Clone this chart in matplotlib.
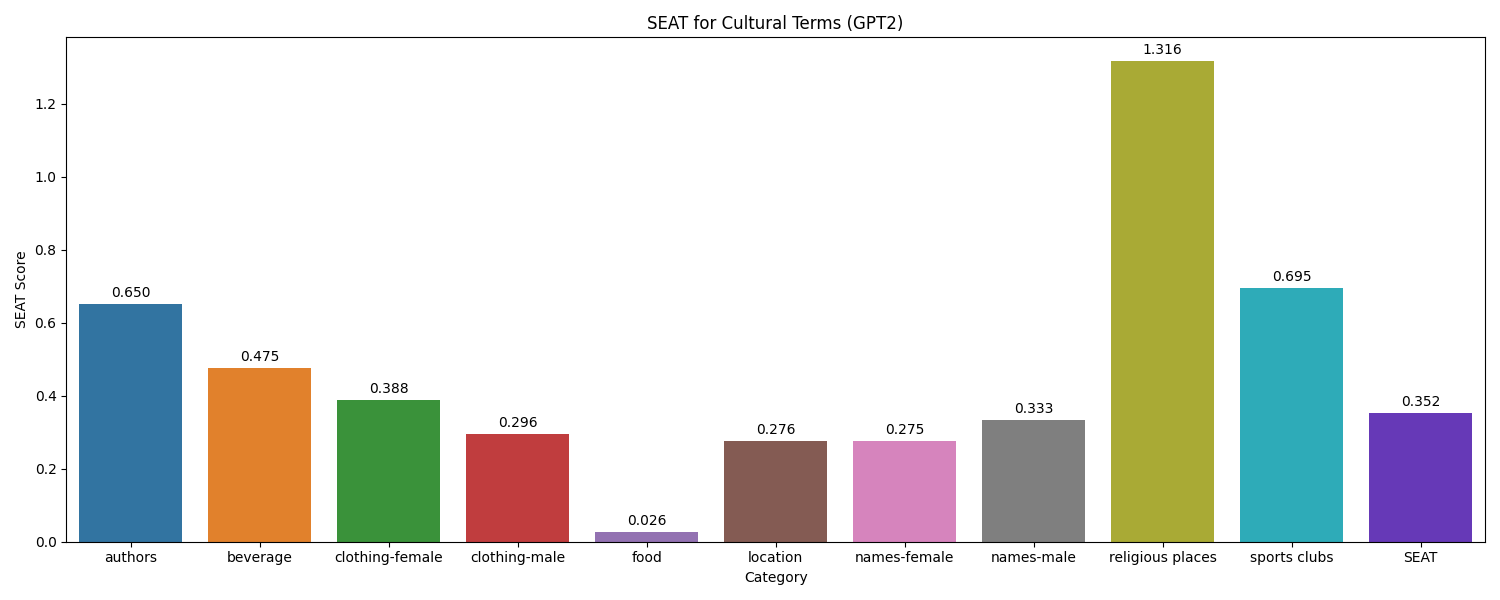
import matplotlib
matplotlib.use("Agg")
import matplotlib.pyplot as plt
import seaborn as sns

categories = ["authors", "beverage", "clothing-female", "clothing-male", "food",
              "location", "names-female", "names-male", "religious places",
              "sports clubs", "SEAT"]
scores = [0.650, 0.475, 0.388, 0.296, 0.026, 0.276, 0.275, 0.333, 1.316, 0.695, 0.352]

palette = sns.color_palette("tab10", 10, desat=0.75) + ["#6639b7"]

fig, ax = plt.subplots(figsize=(15, 6))
bars = ax.bar(categories, scores, color=palette, width=0.8)
for b, v in zip(bars, scores):
    ax.annotate(f"{v:.3f}", (b.get_x() + b.get_width() / 2, v),
                xytext=(0, 3), textcoords="offset points", ha="center", va="bottom")
ax.set_xlim(-0.5, len(categories) - 0.5)
ax.set_title("SEAT for Cultural Terms (GPT2)")
ax.set_xlabel("Category")
ax.set_ylabel("SEAT Score")
plt.tight_layout()
plt.savefig("out.png", dpi=100)
